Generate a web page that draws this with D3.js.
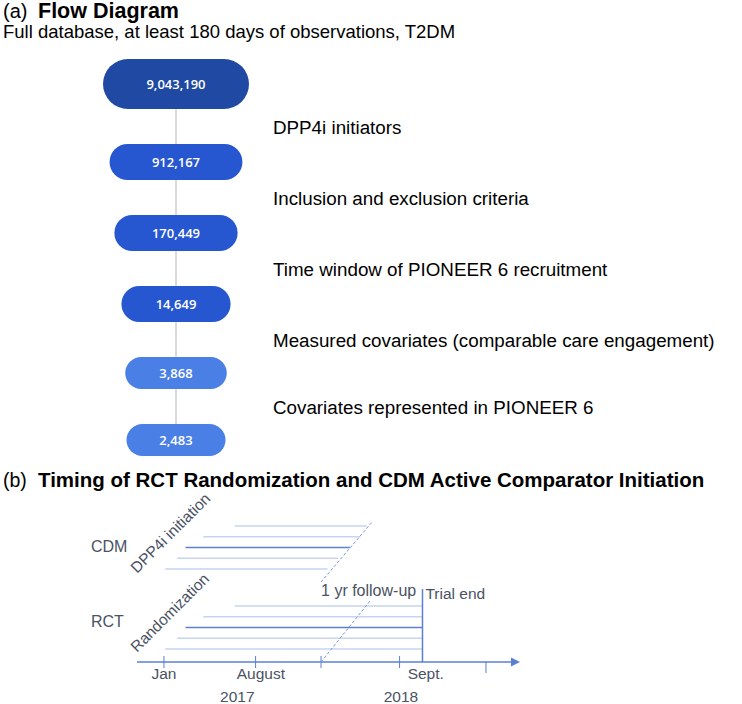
<!DOCTYPE html>
<html><head><meta charset="utf-8">
<script src="https://cdn.jsdelivr.net/npm/d3@7"></script>
<style>body{margin:0;background:#fff}svg{display:block}</style>
</head><body>
<script>
// ---------- Data ----------
const flowCounts = [9043190, 912167, 170449, 14649, 3868, 2483];
const flowTier = [0, 1, 1, 1, 2, 2];
const flowSteps = ["DPP4i initiators", "Inclusion and exclusion criteria",
  "Time window of PIONEER 6 recruitment",
  "Measured covariates (comparable care engagement)",
  "Covariates represented in PIONEER 6"];
const tierColors = ["#1f49a3", "#2757d0", "#4a80e6"];

// timeline (months since Jan 2017)
const axisTickMonths = [0, 7, 12, 18, 24.6];
const axisTickLabels = [{m:0,t:"Jan"},{m:7.4,t:"August"},{m:20,t:"Sept."}];
const yearLabels = [{m:5.6,t:"2017"},{m:18.1,t:"2018"}];
const trialEndMonth = 19.75;
const cdmStart = [5.4, 3.0, 1.65, 1.0, 0.1];
const cdmEnd   = [15.5, 15.0, 14.2, 13.3, 12.5];
const rctStart = [5.4, 3.0, 1.65, 1.0, 0.1];
const emphRow = 2;

// ---------- Setup ----------
const W = 742, H = 704;
const svg = d3.select("body").append("svg").attr("width", W).attr("height", H)
  .style("font-family", "Liberation Sans, Arial, Helvetica, sans-serif");

// Panel (a)
const ta = svg.append("text").attr("x", 3).attr("y", 18).attr("font-size", 20).attr("fill", "#000");
ta.append("tspan").text("(a)");
ta.append("tspan").attr("x", 38).attr("font-weight", "bold").attr("font-size", 21.5).text("Flow Diagram");
svg.append("text").attr("x", 3).attr("y", 38).attr("font-size", 18.5).attr("fill", "#000")
  .text("Full database, at least 180 days of observations, T2DM");

const wScale = d3.scaleLog().domain([d3.min(flowCounts), d3.max(flowCounts)]).range([99, 146]);
const tierH = [50, 36, 32];
const gap = 35;
const cx = 176;
let yCur = 59;
const pills = flowCounts.map((c, i) => {
  const h = tierH[flowTier[i]];
  const p = {c, i, w: wScale(c), h, y: yCur};
  yCur += h + gap;
  return p;
});

svg.append("line").attr("x1", cx).attr("x2", cx)
  .attr("y1", pills[0].y + pills[0].h).attr("y2", pills[pills.length-1].y)
  .attr("stroke", "#cfcfcf").attr("stroke-width", 1.5);

const pg = svg.append("g").selectAll("g").data(pills).join("g");
pg.append("rect").attr("x", d => cx - d.w/2).attr("y", d => d.y)
  .attr("width", d => d.w).attr("height", d => d.h)
  .attr("rx", d => d.h/2).attr("ry", d => d.h/2)
  .attr("fill", d => tierColors[flowTier[d.i]]);
pg.append("text").attr("x", cx).attr("y", d => d.y + d.h/2)
  .attr("dy", "0.36em").attr("text-anchor", "middle")
  .attr("font-family", "Open Sans, sans-serif").attr("font-weight", 600)
  .attr("font-size", 13).attr("fill", "#fff")
  .text(d => d3.format(",")(d.c));

svg.append("g").selectAll("text").data(flowSteps).join("text")
  .attr("x", 273)
  .attr("y", (d, i) => (pills[i].y + pills[i].h + pills[i+1].y)/2 + 7)
  .attr("font-size", 18.8).attr("fill", "#000").text(d => d);

// Panel (b)
const tb = svg.append("text").attr("x", 3).attr("y", 487).attr("font-size", 19.5).attr("fill", "#000");
tb.append("tspan").text("(b)");
tb.append("tspan").attr("x", 38).attr("font-weight", "bold").attr("font-size", 20.5)
  .text("Timing of RCT Randomization and CDM Active Comparator Initiation");

const x = d3.scaleLinear().domain([-2.06, 27.2]).range([137, 520]);
const rowY = d3.scaleLinear().domain([0, 4]).range([526, 569]);
const rctOffset = 80;
const axisY = 662;
const blue = "#5b7fd6";
const light = "#c7d4f1";
const txt = "#4a5264";

// axis
svg.append("line").attr("x1", x.range()[0]).attr("x2", x.range()[1] - 6)
  .attr("y1", axisY).attr("y2", axisY).attr("stroke", blue).attr("stroke-width", 1.5);
svg.append("path").attr("d", `M${x.range()[1]},${axisY} l-9,-4.5 l0,9 z`).attr("fill", blue);
svg.append("g").selectAll("line").data(axisTickMonths).join("line")
  .attr("x1", d => x(d)).attr("x2", d => x(d))
  .attr("y1", (d, i) => i === axisTickMonths.length - 1 ? axisY : axisY - 6)
  .attr("y2", (d, i) => i === axisTickMonths.length - 1 ? axisY + 11 : axisY + 6)
  .attr("stroke", blue).attr("stroke-width", 1);

svg.append("g").selectAll("text").data(axisTickLabels).join("text")
  .attr("x", d => x(d.m)).attr("y", 679).attr("text-anchor", "middle")
  .attr("font-size", 15.5).attr("fill", txt).text(d => d.t);
svg.append("g").selectAll("text").data(yearLabels).join("text")
  .attr("x", d => x(d.m)).attr("y", 702).attr("text-anchor", "middle")
  .attr("font-size", 15.5).attr("fill", txt).text(d => d.t);

// CDM lines
svg.append("g").selectAll("line").data(cdmStart).join("line")
  .attr("x1", d => x(d)).attr("x2", (d, i) => x(cdmEnd[i]))
  .attr("y1", (d, i) => rowY(i)).attr("y2", (d, i) => rowY(i))
  .attr("stroke", (d, i) => i === emphRow ? blue : light).attr("stroke-width", 1.5);
// RCT lines
svg.append("g").selectAll("line").data(rctStart).join("line")
  .attr("x1", d => x(d)).attr("x2", x(trialEndMonth))
  .attr("y1", (d, i) => rowY(i) + rctOffset).attr("y2", (d, i) => rowY(i) + rctOffset)
  .attr("stroke", (d, i) => i === emphRow ? blue : light).attr("stroke-width", 1.5);

// dashed diagonals (1 yr follow-up)
svg.append("line").attr("x1", x(12)).attr("y1", 582).attr("x2", x(15.9)).attr("y2", 522)
  .attr("stroke", "#7a95df").attr("stroke-width", 1).attr("stroke-dasharray", "3,2");
svg.append("line").attr("x1", x(12)).attr("y1", axisY).attr("x2", x(15.8)).attr("y2", 600)
  .attr("stroke", "#7a95df").attr("stroke-width", 1).attr("stroke-dasharray", "3,2");

// trial end
svg.append("line").attr("x1", x(trialEndMonth)).attr("x2", x(trialEndMonth))
  .attr("y1", 589).attr("y2", axisY).attr("stroke", blue).attr("stroke-width", 1.5);

svg.append("text").attr("x", x(12)).attr("y", 596).attr("font-size", 16).attr("fill", txt).text("1 yr follow-up");
svg.append("text").attr("x", x(trialEndMonth) + 3).attr("y", 599).attr("font-size", 15.5).attr("fill", txt).text("Trial end");
svg.append("text").attr("x", 91).attr("y", 552).attr("font-size", 16).attr("fill", txt).text("CDM");
svg.append("text").attr("x", 91).attr("y", 627).attr("font-size", 16).attr("fill", txt).text("RCT");

svg.append("text").attr("transform", "translate(137,574) rotate(-45)")
  .attr("font-size", 15.5).attr("fill", txt).text("DPP4i initiation");
svg.append("text").attr("transform", "translate(137,653) rotate(-45)")
  .attr("font-size", 15.5).attr("fill", txt).text("Randomization");
</script>
</body></html>
